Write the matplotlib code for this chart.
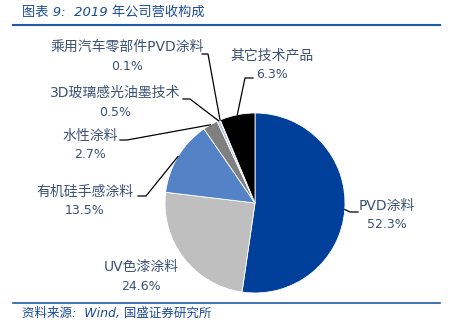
import matplotlib.pyplot as plt
import numpy as np
from matplotlib.lines import Line2D
from matplotlib.transforms import IdentityTransform

# data
categories = ["PVD涂料", "UV色漆涂料", "有机硅手感涂料", "水性涂料",
              "3D玻璃感光油墨技术", "乘用汽车零部件PVD涂料", "其它技术产品"]
shares = [52.3, 24.6, 13.5, 2.7, 0.5, 0.1, 6.3]
colors = ["#00409A", "#BFBFBF", "#5383C6", "#7F7F7F", "#A9C4E8", "#DCE6F2", "#000000"]

# label layout in pixels from top-left: text centre, line stub (start, knee)
label_pos = [(387, 206), (141, 267), (85, 192), (90, 136), (115, 93), (127, 47), (272, 55)]
stubs = [((358, 212), (350, 212)), None, ((138, 196), (146, 196)),
         ((120, 140), (127, 140)), ((183, 99), (190, 99)),
         ((202, 54), (208, 54)), ((253, 78), (245, 78))]

W, H = 456, 332
text_col = "#3B5275"
title_col = "#1A4A96"
fam = ["DejaVu Sans", "Noto Sans CJK SC"]

fig = plt.figure(figsize=(W / 100, H / 100), dpi=100)
fig.patch.set_facecolor("white")

# pie axes: centre (255, 203), radius 90 px
ax = fig.add_axes([165 / W, (H - 293) / H, 180 / W, 180 / H])
wedges, _ = ax.pie(shares, colors=colors, startangle=90, counterclock=False,
                   radius=1, wedgeprops=dict(edgecolor="white", linewidth=0.6))
ax.set_xlim(-1, 1)
ax.set_ylim(-1, 1)
ax.set_aspect("equal")
ax.axis("off")

fig.canvas.draw()


def px(x, y):
    return x, H - y


for w, name, v, (lx, ly), st in zip(wedges, categories, shares, label_pos, stubs):
    fig.text(lx / W, 1 - ly / H, name, ha="center", va="center", fontsize=10,
             color=text_col, family=fam)
    fig.text(lx / W, 1 - (ly + 19) / H, f"{v:.1f}%", ha="center", va="center",
             fontsize=9, color=text_col, family=fam)
    if st is None:
        continue
    mid = np.deg2rad((w.theta1 + w.theta2) / 2)
    ex, ey = ax.transData.transform((np.cos(mid), np.sin(mid)))
    (sx, sy), (kx, ky) = px(*st[0]), px(*st[1])
    fig.add_artist(Line2D([sx, kx, ex], [sy, ky, ey], color="black", lw=0.9,
                          transform=IdentityTransform()))

# title, rules and source
fig.text(22 / W, 1 - 12 / H, "图表 9:  2019 年公司营收构成", ha="left", va="center",
         fontsize=9.5, color=title_col, style="italic", family=fam)
fig.add_artist(Line2D([13 / W, 440 / W], [1 - 25 / H, 1 - 25 / H], color="#1F5AA8", lw=1.5))
fig.add_artist(Line2D([13 / W, 440 / W], [1 - 302.5 / H, 1 - 302.5 / H], color="#1F5AA8", lw=1.2))
fig.text(22 / W, 1 - 313 / H, "资料来源:  Wind, 国盛证券研究所", ha="left", va="center",
         fontsize=9, color=title_col, style="italic", family=fam)

fig.savefig("out.png", dpi=100)
